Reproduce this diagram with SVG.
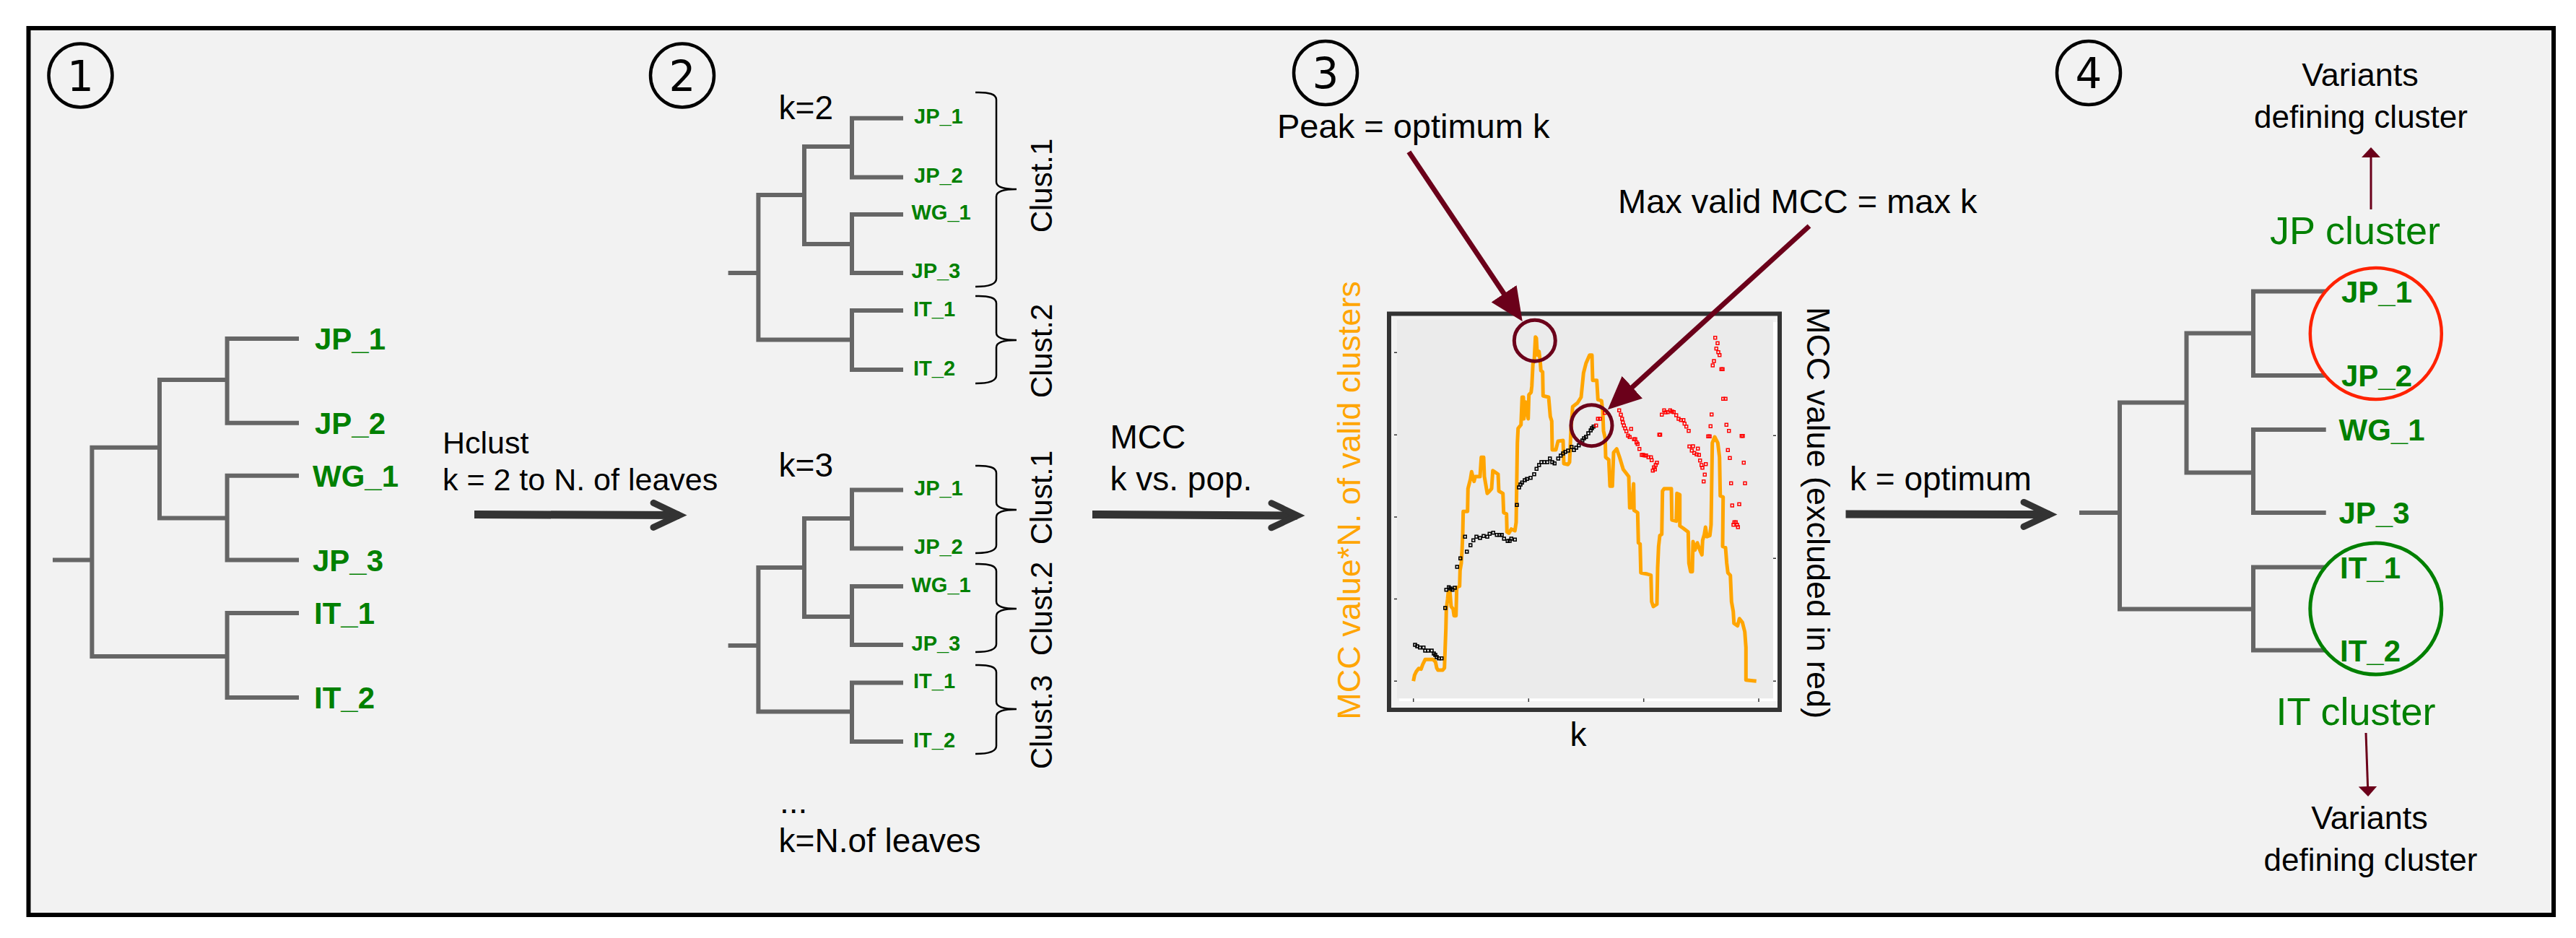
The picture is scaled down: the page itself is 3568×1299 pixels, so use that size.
<svg xmlns="http://www.w3.org/2000/svg" width="3568" height="1299" viewBox="0 0 3568 1299">
<style>
.t{font-family:"Liberation Sans",Arial,sans-serif;fill:#000}
.num{font-family:"DejaVu Sans","Liberation Sans",sans-serif;font-size:58px;text-anchor:middle;fill:#000}
.lf{font-family:"Liberation Sans",Arial,sans-serif;font-weight:bold;fill:#008000;font-size:42px}
.ls{font-family:"Liberation Sans",Arial,sans-serif;font-weight:bold;fill:#008000;font-size:29px}
.tree{fill:none;stroke:#666;stroke-width:6;stroke-linejoin:miter;stroke-linecap:square}
.brace{fill:none;stroke:#000;stroke-width:2.5}
.nc{fill:none;stroke:#000;stroke-width:4.5}
.big{fill:none;stroke:#333;stroke-width:11;marker-end:url(#chev)}
.mar{fill:none;stroke:#6b001a;stroke-width:7;marker-end:url(#mh)}
.sm{fill:none;stroke:#6b001a;stroke-width:3;marker-end:url(#ms)}
.tick{stroke:#333;stroke-width:1.5}
</style>
<defs>
<marker id="chev" markerUnits="userSpaceOnUse" viewBox="-48 -24 56 48" refX="0" refY="0" markerWidth="56" markerHeight="48" orient="auto" overflow="visible">
<path d="M-36,-17 L0,0 L-36,17" fill="none" stroke="#333" stroke-width="9" stroke-linecap="round" stroke-linejoin="miter"/>
</marker>
<marker id="mh" markerUnits="userSpaceOnUse" viewBox="0 0 46 42" refX="16" refY="21" markerWidth="46" markerHeight="42" orient="auto">
<path d="M0,0 L46,21 L0,42 z" fill="#6b001a"/>
</marker>
<marker id="ms" markerUnits="userSpaceOnUse" viewBox="0 0 14 26" refX="12" refY="13" markerWidth="14" markerHeight="26" orient="auto">
<path d="M0,0 L14,13 L0,26 z" fill="#6b001a"/>
</marker>
<marker id="sqk" markerUnits="userSpaceOnUse" viewBox="0 0 6 6" refX="3" refY="3" markerWidth="6" markerHeight="6">
<rect x="1" y="1" width="4" height="4" fill="none" stroke="#000" stroke-width="1.6"/>
</marker>
<marker id="sqr" markerUnits="userSpaceOnUse" viewBox="0 0 6 6" refX="3" refY="3" markerWidth="6" markerHeight="6">
<rect x="1" y="1" width="4" height="4" fill="none" stroke="#ff0000" stroke-width="1.5"/>
</marker>
</defs>

<rect x="0" y="0" width="3568" height="1299" fill="#fff"/>
<g id="frame">
<rect x="39.5" y="39" width="3497.5" height="1228" fill="#f2f2f2" stroke="#000" stroke-width="6"/>
</g>

<!-- step numbers -->
<g id="step1"><circle class="nc" cx="111.5" cy="104.5" r="44"/><text class="num" x="111.5" y="125.5">1</text></g>
<g id="step2"><circle class="nc" cx="945" cy="104.5" r="44"/><text class="num" x="945" y="125.5">2</text></g>
<g id="step3"><circle class="nc" cx="1836" cy="101" r="44"/><text class="num" x="1836" y="122">3</text></g>
<g id="step4"><circle class="nc" cx="2893" cy="101" r="44"/><text class="num" x="2893" y="122">4</text></g>

<!-- panel 1 tree -->
<g id="tree1">
<path class="tree" d="M76,775.5 H127.4 M221,619.7 H127.4 V909 H314.6 M411,469 H314.6 V585.7 H411 M314.6,526 H221 V717.5 H314.6 M411,658.7 H314.6 V775.5 H411 M411,849 H314.6 V966 H411"/>
<text class="lf" x="436" y="484">JP_1</text>
<text class="lf" x="436" y="600.5">JP_2</text>
<text class="lf" x="433" y="673.5">WG_1</text>
<text class="lf" x="433" y="790.5">JP_3</text>
<text class="lf" x="435" y="864">IT_1</text>
<text class="lf" x="435" y="981">IT_2</text>
</g>

<g id="label-hclust">
<text class="t" x="613" y="628" font-size="43">Hclust</text>
<text class="t" x="613" y="679" font-size="43">k = 2 to N. of leaves</text>
</g>

<!-- panel 2 trees -->
<g id="tree-k2">
<text class="t" x="1078.6" y="165" font-size="46">k=2</text>
<path class="tree" d="M1011.6,378 H1050.4 M1114,270 H1050.4 V470.5 H1180 M1248,163.7 H1180 V245.4 H1248 M1180,203 H1114 V338 H1180 M1248,297 H1180 V378 H1248 M1248,430 H1180 V512 H1248"/>
<text class="ls" x="1266" y="171">JP_1</text>
<text class="ls" x="1266" y="252.5">JP_2</text>
<text class="ls" x="1262.5" y="304">WG_1</text>
<text class="ls" x="1262.5" y="385">JP_3</text>
<text class="ls" x="1265" y="438">IT_1</text>
<text class="ls" x="1265" y="520">IT_2</text>
<path class="brace" d="M1351,128 Q1380,127 1380,138 L1380,252 Q1380,262 1408,262 Q1380,262 1380,272 L1380,386 Q1380,397 1351,397"/>
<path class="brace" d="M1351,410 Q1380,409 1380,420 L1380,461 Q1380,471 1408,471 Q1380,471 1380,481 L1380,520 Q1380,531 1351,531"/>
<text class="t" font-size="42" text-anchor="middle" transform="translate(1457,257) rotate(-90)">Clust.1</text>
<text class="t" font-size="42" text-anchor="middle" transform="translate(1457,486) rotate(-90)">Clust.2</text>
</g>

<g id="tree-k3">
<text class="t" x="1078.6" y="660" font-size="46">k=3</text>
<path class="tree" d="M1011.6,894 H1050.4 M1114,786 H1050.4 V985.6 H1180 M1248,678.5 H1180 V759.6 H1248 M1180,718 H1114 V854 H1180 M1248,812 H1180 V893 H1248 M1248,945.5 H1180 V1027 H1248"/>
<text class="ls" x="1266" y="686">JP_1</text>
<text class="ls" x="1266" y="767">JP_2</text>
<text class="ls" x="1262.5" y="819.5">WG_1</text>
<text class="ls" x="1262.5" y="900.5">JP_3</text>
<text class="ls" x="1265" y="953">IT_1</text>
<text class="ls" x="1265" y="1034.5">IT_2</text>
<path class="brace" d="M1351,645 Q1380,644 1380,655 L1380,696 Q1380,706 1408,706 Q1380,706 1380,716 L1380,755 Q1380,766 1351,766"/>
<path class="brace" d="M1351,781 Q1380,780 1380,791 L1380,833 Q1380,843 1408,843 Q1380,843 1380,853 L1380,892 Q1380,903 1351,903"/>
<path class="brace" d="M1351,921 Q1380,920 1380,931 L1380,972 Q1380,982 1408,982 Q1380,982 1380,992 L1380,1033 Q1380,1044 1351,1044"/>
<text class="t" font-size="42" text-anchor="middle" transform="translate(1457,689) rotate(-90)">Clust.1</text>
<text class="t" font-size="42" text-anchor="middle" transform="translate(1457,843) rotate(-90)">Clust.2</text>
<text class="t" font-size="42" text-anchor="middle" transform="translate(1457,1000) rotate(-90)">Clust.3</text>
<text class="t" x="1080" y="1126" font-size="46">...</text>
<text class="t" x="1078.6" y="1179.5" font-size="46">k=N.of leaves</text>
</g>

<g id="label-mcc">
<text class="t" x="1537.5" y="621" font-size="46">MCC</text>
<text class="t" x="1537.5" y="679" font-size="46">k vs. pop.</text>
</g>

<!-- panel 3 plot -->
<g id="plot">
<rect x="1924" y="434.5" width="541" height="548.5" fill="#f2f2f2" stroke="#333" stroke-width="6"/>
<rect x="1938" y="446" width="524" height="525" fill="#fff"/>
<rect x="1935" y="442.7" width="521" height="524.6" fill="#ebebeb"/>
<g class="tick">
<path d="M1931,488.3 H1935 M1931,602.3 H1935 M1931,716 H1935 M1931,829.5 H1935 M1931,943.3 H1935"/>
<path d="M2456,603.3 H2460 M2456,773.3 H2460 M2456,943.3 H2460"/>
<path d="M1957.7,967.3 V972 M2117.3,967.3 V972 M2276.7,967.3 V972 M2436,967.3 V972"/>
</g>
<polyline fill="none" stroke="#ffa500" stroke-width="5" stroke-linejoin="round" points="1957.7,943.3 1959.3,935 1961.7,930 1965,925.7 1968.3,926.7 1970.7,920 1974,913.3 1985,913.3 1988.3,916.7 1990,925 1991.7,928 1998.3,928 2000.7,925 2001.7,896.7 2002.7,870 2003.3,843.3 2005,830 2006,820 2008.3,820 2010,840 2012.7,843.3 2014,852.7 2016.7,852.7 2017.7,813.3 2021.7,811.7 2022.3,790 2024,780 2025,763.3 2026,740 2026.7,708.3 2032.7,708.3 2033.3,676.7 2036.7,663.3 2038.3,653.3 2041.7,666.7 2043.3,660 2050,660 2051.7,633.3 2055,633.3 2056,660 2058.3,673.3 2060,683.3 2063.3,680 2066,676.7 2067.7,651.7 2070,653.3 2075,656.7 2076,680 2081.7,683.3 2082.7,710 2086.7,711.7 2087.3,736.7 2090,738.3 2093.3,732.7 2098.3,735 2100,723.3 2101.7,613.3 2102.7,593.3 2106.7,588.3 2108.3,550 2110,550 2110.7,580 2113.3,556.7 2116.7,580 2117.7,546.7 2120.7,543.3 2121.7,535 2123.3,503.3 2125,500 2126.7,466.7 2128,468.3 2129.3,491.7 2131.7,486.7 2133.3,500 2134.3,513.3 2136.7,515 2137.3,548.3 2145,550 2147.3,576.7 2149.3,583.3 2150,623 2155,623 2158,611 2165,610 2166,642 2171.7,643.3 2174,640 2176,593.3 2178.3,563.3 2185,558 2190,550 2193.3,516.7 2196.7,503.3 2201.7,491.7 2205,491.7 2206,526.7 2211.7,526.7 2213.3,553.3 2218.3,555 2220,570 2221,596.7 2223.3,606.7 2224,633.3 2228.3,636.7 2230,673.3 2233.3,673.3 2235,626.7 2239.3,621.7 2243.3,633.3 2248.3,650 2256,660 2257.3,703.3 2260,703 2262.7,670 2263.3,706.7 2268.3,710 2269.3,751.7 2271.7,753.3 2272.7,793.3 2281.7,795 2286.7,796.7 2287.7,833.3 2290,840 2295,836.7 2296,786.7 2297.3,756.7 2299,741.7 2301.7,740 2302.7,680 2305,676.7 2315,676.7 2315.7,720 2321.7,721.7 2322.7,683.3 2326.7,685 2326.7,728.3 2331.7,731.7 2338.3,736.7 2339.3,780 2341.7,791.7 2344,791.7 2345,750 2347.7,761.7 2351,751.7 2355,763.3 2357.3,768.3 2358.3,748.3 2360.7,740 2362.3,730 2364.3,743.3 2368.3,741.7 2370,726.7 2371.7,613.3 2375,605 2379.3,613.3 2381.7,633.3 2382.7,686.7 2386.7,688.3 2386,756.7 2390,758.3 2391.7,780 2393.3,793.3 2396.7,796.7 2398.3,833.3 2400.7,846.7 2401.7,863.3 2406.7,866.7 2409.3,856.7 2413.3,861.7 2416.7,875 2418.3,896.7 2418.3,941.7 2432.7,943.3"/>
<polyline fill="none" stroke="none" marker-start="url(#sqk)" marker-mid="url(#sqk)" marker-end="url(#sqk)" points="1960,893 1963,895 1966.7,896.7 1971.7,896.7 1974,901 1978,901 1983,901 1986,905 1988,907 1990,910 1993,911.7 1996.7,911.7 2001.7,842 2003.3,816.7 2006.7,813.3 2009,815 2011.7,816.7 2015,814 2018.3,785 2022.7,773.3 2029.3,743.3 2031.7,764 2036.7,755 2040.7,748.3 2045,743.3 2050,745 2055,742.3 2060,743.3 2063.3,739.3 2068.3,737.7 2073.3,740.7 2077,740.7 2080,740.7 2083.3,746 2088.3,749.3 2091,749 2093.3,746 2098.3,747.3 2101,699.3 2104,675 2106,671 2108.3,668.3 2112,665 2115,663.3 2120,661.7 2125,656.7 2128.3,649.3 2131.7,644 2135,640 2139,640 2143.3,640 2146.7,635 2150,640 2153.3,641.7 2158.3,635 2161.7,631 2165,628 2168.3,625.7 2172,624 2176.7,619 2180,623.3 2183.3,620 2186.7,616.7 2189,613 2191.7,610 2194,607 2196.7,605 2200,600 2203.3,596 2205,593 2207.3,590.7"/>
<polyline fill="none" stroke="none" marker-start="url(#sqr)" marker-mid="url(#sqr)" marker-end="url(#sqr)" points="2210.7,589.3 2213.3,580 2216,580 2222.7,571.7 2242.7,568.3 2245,574.3 2246.7,580 2247.7,585 2249.3,589.3 2251,593.3 2252.7,597.3 2255,603.3 2257.3,605.3 2259.3,594 2263.3,608.3 2265,608.3 2266.7,612.7 2268.3,615 2270.7,621.7 2274,630 2276,630 2278,630.7 2280,630.7 2283.3,633.3 2286.7,633.3 2287.7,637.3 2295,640.7 2293.3,644 2290.7,647.3 2292.3,650 2289.3,651.7 2298.3,602 2299.5,602 2301.7,574.3 2305,568.3 2307,571 2310,570.7 2313.3,568.3 2316,570 2318.3,570.7 2321.7,575 2325,580 2328.3,581.7 2331.7,581.7 2333.3,586.7 2335.7,590.7 2339,596.7 2340,618.3 2345,618 2343.3,624 2346.7,627.3 2350,629.3 2351.7,621.3 2353.3,630 2354.7,637.7 2356.7,644 2358,647.7 2362.7,642.7 2361.3,657.3 2359.7,666.7 2375.7,467.7 2379,475.3 2377.3,482.7 2380,487.7 2381.7,491.7 2374,500 2372.3,506 2384.3,511.3 2386,511.3 2386.7,552.3 2390,552.3 2370.7,574 2369.3,590.3 2366,604.3 2368,604.3 2391.3,588.3 2394.7,596.7 2412.3,603.7 2414,603.7 2393.3,623.3 2396,634.3 2415.3,640.7 2397.7,669.3 2417,669.3 2399.3,700 2409,698.3 2402.3,723.3 2404.3,723.3 2401,726.7 2406,726.7 2407.3,730"/>
<circle cx="2125.8" cy="471.7" r="28.5" fill="none" stroke="#6b001a" stroke-width="5"/>
<circle cx="2204.5" cy="589.2" r="28.5" fill="none" stroke="#6b001a" stroke-width="5"/>
<text class="t" font-size="45" text-anchor="middle" style="fill:#ffa500" transform="translate(1884,693) rotate(-90)">MCC value*N. of valid clusters</text>
<text class="t" font-size="45" text-anchor="middle" transform="translate(2503,710) rotate(90)">MCC value (excluded in red)</text>
<text class="t" x="2186" y="1033" font-size="46" text-anchor="middle">k</text>
</g>

<g id="label-peak"><text class="t" x="1769" y="191" font-size="47">Peak = optimum k</text></g>
<g id="label-maxvalid"><text class="t" x="2241" y="295" font-size="47">Max valid MCC = max k</text></g>
<g id="label-kopt"><text class="t" x="2562" y="679" font-size="46">k = optimum</text></g>

<!-- panel 4 tree -->
<g id="tree4">
<path class="tree" d="M2883,710 H2936 M3028.5,557.6 H2936 V843.4 H3121 M3218.7,403.5 H3121 V520 H3218.7 M3121,461.5 H3028.5 V654.5 H3121 M3218.7,595 H3121 V710 H3218.7 M3218.7,785.4 H3121 V900.6 H3218.7"/>
<text class="lf" x="3243" y="418.5">JP_1</text>
<text class="lf" x="3243" y="535">JP_2</text>
<text class="lf" x="3239.5" y="610">WG_1</text>
<text class="lf" x="3239.5" y="725">JP_3</text>
<text class="lf" x="3241" y="800.5">IT_1</text>
<text class="lf" x="3241" y="915.5">IT_2</text>
</g>
<g id="jp-cluster">
<circle cx="3290.8" cy="462" r="91" fill="none" stroke="#ff2200" stroke-width="4.5"/>
<text x="3262" y="338" font-family="Liberation Sans, Arial, sans-serif" font-size="54" fill="#008000" text-anchor="middle">JP cluster</text>
</g>
<g id="it-cluster">
<circle cx="3290.8" cy="843" r="91" fill="none" stroke="#008000" stroke-width="5"/>
<text x="3263" y="1004" font-family="Liberation Sans, Arial, sans-serif" font-size="54" fill="#008000" text-anchor="middle">IT cluster</text>
</g>
<g id="variants-top">
<text class="t" x="3269" y="118.5" font-size="45" text-anchor="middle">Variants</text>
<text class="t" x="3270" y="176.5" font-size="44" text-anchor="middle">defining cluster</text>
</g>
<g id="variants-bottom">
<text class="t" x="3282" y="1147.5" font-size="45" text-anchor="middle">Variants</text>
<text class="t" x="3283.5" y="1205.5" font-size="44" text-anchor="middle">defining cluster</text>
</g>

<!-- connectors -->
<g id="connectors">
<path class="big" d="M657,712.5 L941,713.5"/>
<path class="big" d="M1513,712.5 L1797,714"/>
<path class="big" d="M2556.5,712 L2839,712.5"/>
<path class="mar" d="M1951.4,210.4 L2092,420"/>
<path class="mar" d="M2506,313 L2249,547"/>
<path class="sm" d="M3284,290 L3284,206"/>
<path class="sm" d="M3277,1015 L3280,1101"/>
</g>
</svg>
